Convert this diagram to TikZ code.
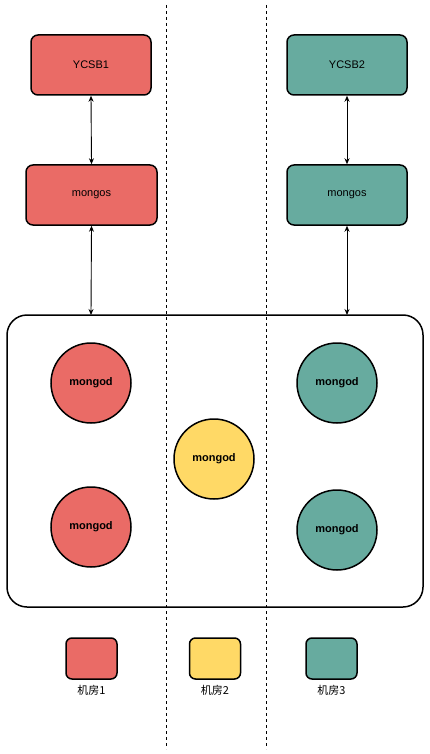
\documentclass[tikz,border=0pt]{standalone}
\usepackage{fontspec}
\setmainfont{Liberation Sans}
\newfontfamily\cjk{Noto Sans CJK SC}
\usetikzlibrary{arrows.meta}
\definecolor{cred}{HTML}{EA6B66}
\definecolor{cyel}{HTML}{FFD966}
\definecolor{cteal}{HTML}{67AB9F}
\begin{document}
\begin{tikzpicture}[x=1pt,y=-1pt,
  box/.style={draw=black,line width=1.5pt,rounded corners=7pt,minimum width=#1,minimum height=60pt,inner sep=0pt,font=\fontsize{11}{13}\selectfont},
  db/.style={draw=black,line width=1.5pt,circle,minimum size=80pt,inner sep=0pt,font=\bfseries\fontsize{11}{13}\selectfont},
  leg/.style={draw=black,line width=1.5pt,rounded corners=6pt,minimum width=51pt,minimum height=41pt,inner sep=0pt},
  legtxt/.style={font=\cjk\fontsize{11}{13}\selectfont,inner sep=0pt},
  sep/.style={draw=black,line width=0.8pt,dash pattern=on 3pt off 3pt},
  link/.style={draw=black,line width=0.9pt,{Stealth[length=6pt,width=5pt]}-{Stealth[length=6pt,width=5pt]}}]
\useasboundingbox (0,0) rectangle (429,754);
\fill[white] (0,0) rectangle (429,754);
\coordinate (s1t) at (166,5); \coordinate (s1b) at (166,749);
\coordinate (s2t) at (266,5); \coordinate (s2b) at (266,749);
\draw[sep] (s1t) -- (s1b);
\draw[sep] (s2t) -- (s2b);
\node[draw=black,line width=1.5pt,rounded corners=20pt,minimum width=416pt,minimum height=292pt] (cluster) at (215,461) {};
\node[box=120pt,fill=cred] (y1) at (91,65) {YCSB1};
\node[box=131pt,fill=cred] (m1) at (91.5,195) {mongos};
\node[box=120pt,fill=cteal] (y2) at (347,65) {YCSB2};
\node[box=120pt,fill=cteal] (m2) at (347,195) {mongos};
\draw[link] (y1.south) -- (m1.north);
\draw[link] (y2.south) -- (m2.north);
\coordinate (c1) at (91,315);
\coordinate (c2) at (347,315);
\draw[link] (m1.south) -- (c1);
\draw[link] (m2.south) -- (c2);
\node[db,fill=cred] (d1) at (91,383) {mongod};
\node[db,fill=cred] (d2) at (91,527) {mongod};
\node[db,fill=cyel] (d3) at (214,459) {mongod};
\node[db,fill=cteal] (d4) at (337,383) {mongod};
\node[db,fill=cteal] (d5) at (337,530) {mongod};
\node[leg,fill=cred] (l1) at (91.5,658.5) {};
\node[leg,fill=cyel] (l2) at (215,658.5) {};
\node[leg,fill=cteal] (l3) at (331.5,658.5) {};
\node[legtxt] (t1) at (91.5,690) {机房1};
\node[legtxt] (t2) at (215,690) {机房2};
\node[legtxt] (t3) at (331.5,690) {机房3};
\end{tikzpicture}
\end{document}
